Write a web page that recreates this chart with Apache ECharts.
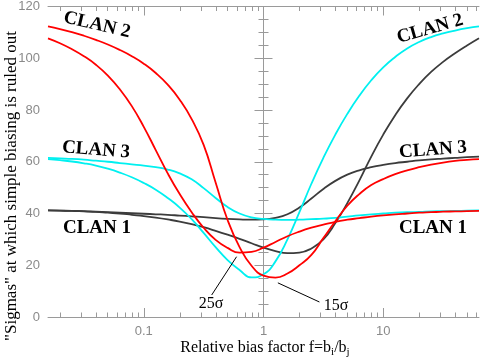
<!DOCTYPE html>
<html>
<head>
<meta charset="utf-8">
<script src="https://cdn.jsdelivr.net/npm/echarts@6/dist/echarts.min.js"></script>
<style>
html, body { margin: 0; padding: 0; background: #fff; }
#chart { width: 480px; height: 359px; }
</style>
</head>
<body>
<div id="chart"></div>
<script>
// x positions are log10(f), f = relative bias factor
var logF = [-1.8, -1.7, -1.6, -1.5, -1.4, -1.3, -1.2, -1.1, -1.0, -0.9, -0.8, -0.7, -0.6,
	-0.5, -0.4, -0.3, -0.2, -0.1, 0, 0.1, 0.2, 0.3, 0.4, 0.5, 0.6, 0.7, 0.8, 0.9, 1.0,
	1.1, 1.2, 1.3, 1.4, 1.5, 1.6, 1.7, 1.8];

var redA = [112.3, 111.3, 110.1, 108.7, 107.1, 105.3, 103.2, 100.8, 97.9, 94.3, 89.8, 84, 76.5,
	66.5, 52, 37.5, 27, 19.8, 16, 15.2, 16.8, 20, 24, 30.5, 37, 43, 47.5, 51, 53.3,
	55.2, 56.7, 57.9, 58.9, 59.7, 60.3, 60.7, 61];
var redB = [107.7, 105.8, 103.5, 100.8, 97.5, 93.3, 88, 81.5, 73.5, 64.5, 55.5, 47.5, 40.5,
	34.5, 29.8, 26.7, 24.9, 25.2, 26.8, 29, 31.2, 33, 34.5, 35.7, 36.8, 37.6, 38.2, 38.8, 39.3,
	39.7, 40, 40.3, 40.5, 40.7, 40.8, 40.9, 41];
var cyanC = [61, 60.6, 60.1, 59.4, 58.5, 57.3, 55.8, 54, 51.8, 49.2, 46, 42.3, 37.8,
	32.5, 27, 22, 18.2, 15.3, 16.5, 21.5, 30, 40.5, 51.5, 61.5, 70.5, 78.5, 85.5, 91.5, 96.5,
	100.5, 103.8, 106.3, 108.2, 109.6, 110.7, 111.6, 112.3];
var cyanD = [61.5, 61.3, 61.1, 60.8, 60.4, 60, 59.5, 59, 58.5, 57.9, 57, 55.5, 53.2,
	49.8, 46, 42.5, 40, 38.5, 37.9, 37.6, 37.5, 37.6, 37.8, 38, 38.3, 38.8, 39.3, 39.7, 40,
	40.3, 40.5, 40.6, 40.8, 40.9, 41, 41.1, 41.2];
var grayE = [41.2, 41.1, 41, 40.8, 40.6, 40.3, 40, 39.5, 39, 38.4, 37.7, 36.9, 35.9,
	34.7, 33.3, 31.8, 30.2, 28.5, 26.8, 25.5, 24.7, 24.9, 26.5, 30, 36.3, 44, 52.7, 62, 70.5,
	78, 84.5, 90, 94.7, 98.6, 101.9, 104.9, 107.7];
var grayF = [41.2, 41.1, 41, 40.9, 40.7, 40.5, 40.3, 40.1, 39.9, 39.7, 39.5, 39.2, 38.9,
	38.6, 38.2, 37.9, 37.7, 37.6, 37.7, 38.3, 39.7, 42.3, 45.8, 49.5, 52.6, 55, 56.7, 57.9, 58.8,
	59.5, 60, 60.5, 60.9, 61.2, 61.5, 61.8, 62];

var xTickValues = [-1, 0, 1];
var xTickLabels = ['0.1', '1', '10'];

// arrows: [from, to] in (log10 f, sigma)
var arrow25 = [[-0.433, 8.5], [-0.225, 23.3]];
var arrow15 = [[0.467, 5.8], [0.12, 13.2]];

var chart = echarts.init(document.getElementById('chart'), null, { renderer: 'canvas' });

var xMinor = [];
for (var d = -2; d <= 1; d++) {
	for (var k = 2; k <= 9; k++) {
		var v = d + Math.log10(k);
		if (v > -1.8 && v < 1.8) xMinor.push(v);
	}
}

var axisColor = '#9a9a9a';

function xAxisCfg(pos, ticks, len, main) {
	return {
		type: 'value',
		position: pos,
		min: -1.8,
		max: 1.8,
		axisLine: { show: main, lineStyle: { color: axisColor, width: 1 } },
		axisTick: { show: true, inside: true, length: len, customValues: ticks, lineStyle: { color: axisColor } },
		axisLabel: {
			show: main && pos === 'bottom',
			customValues: xTickValues,
			margin: 8,
			color: '#8a8a8a',
			fontFamily: 'Liberation Sans',
			fontSize: 13,
			formatter: function (val) {
				var i = xTickValues.indexOf(Math.round(val));
				return i >= 0 ? xTickLabels[i] : '';
			}
		},
		splitLine: { show: false }
	};
}

function yAxisCfg(pos) {
	return {
		type: 'value',
		position: pos,
		min: 0,
		max: 120,
		interval: 20,
		axisLine: { show: true, lineStyle: { color: axisColor, width: 1 } },
		axisTick: { show: true, inside: true, length: 9, lineStyle: { color: axisColor } },
		minorTick: { show: true, splitNumber: 4, length: 5, lineStyle: { color: axisColor } },
		axisLabel: {
			show: pos === 'left',
			margin: 8,
			color: '#8a8a8a',
			fontFamily: 'Liberation Sans',
			fontSize: 13
		},
		splitLine: { show: false }
	};
}

function curve(vals, color) {
	return {
		type: 'line',
		smooth: true,
		showSymbol: false,
		silent: true,
		xAxisIndex: 0,
		yAxisIndex: 0,
		lineStyle: { color: color, width: 1.8 },
		data: logF.map(function (x, i) { return [x, vals[i]]; })
	};
}

var series = [
	curve(grayE, '#3c3c3c'),
	curve(grayF, '#3c3c3c'),
	curve(cyanC, '#00f0f0'),
	curve(cyanD, '#00f0f0'),
	curve(redB, '#ff0000'),
	curve(redA, '#ff0000')
];

series[5].markLine = {
	silent: true,
	symbol: ['none', 'triangle'],
	symbolSize: [0, 9],
	label: { show: false },
	lineStyle: { color: '#000', width: 1, type: 'solid' },
	data: [
		[{ coord: arrow25[0] }, { coord: arrow25[1] }],
		[{ coord: arrow15[0] }, { coord: arrow15[1] }]
	]
};

var serif = '"Liberation Serif", "Times New Roman", serif';
function clan(txt, x, y, rot) {
	return {
		type: 'text', x: x, y: y, rotation: rot,
		style: { text: txt, font: 'bold 19px ' + serif, fill: '#000', align: 'center', verticalAlign: 'middle' }
	};
}

var option = {
	animation: false,
	grid: { left: 48, right: 1, top: 5, bottom: 42, containLabel: false },
	xAxis: [
		xAxisCfg('bottom', xTickValues, 9, true),
		xAxisCfg('bottom', xMinor, 4.5, false),
		xAxisCfg('top', xTickValues, 9, true),
		xAxisCfg('top', xMinor, 4.5, false)
	],
	yAxis: [yAxisCfg('left'), yAxisCfg('right')],
	series: series,
	graphic: [
		clan('CLAN 2', 97, 25, -0.23),
		clan('CLAN 3', 96, 150, -0.08),
		clan('CLAN 1', 97, 228, 0),
		clan('CLAN 2', 430, 29, 0.28),
		clan('CLAN 3', 433, 150, 0.08),
		clan('CLAN 1', 433, 228, 0),
		{ type: 'text', x: 211, y: 304, style: { text: '25σ', font: '16px ' + serif, fill: '#000', align: 'center', verticalAlign: 'middle' } },
		{ type: 'text', x: 336, y: 306, style: { text: '15σ', font: '16px ' + serif, fill: '#000', align: 'center', verticalAlign: 'middle' } },
		{
			type: 'text', x: 12, y: 186, rotation: Math.PI / 2,
			style: { text: '"Sigmas" at which simple biasing is ruled out', font: '17px ' + serif, fill: '#000', align: 'center', verticalAlign: 'middle' }
		},
		{
			type: 'text', x: 265, y: 348,
			style: {
				text: '{n|Relative bias factor f=b}{s|i}{n|/b}{s|j}',
				align: 'center', verticalAlign: 'middle',
				rich: {
					n: { fontFamily: serif, fontSize: 16, lineHeight: 20, fill: '#000', color: '#000' },
					s: { fontFamily: serif, fontSize: 11, lineHeight: 11, verticalAlign: 'bottom', fill: '#000', color: '#000' }
				}
			}
		}
	]
};

chart.setOption(option);
</script>
</body>
</html>
